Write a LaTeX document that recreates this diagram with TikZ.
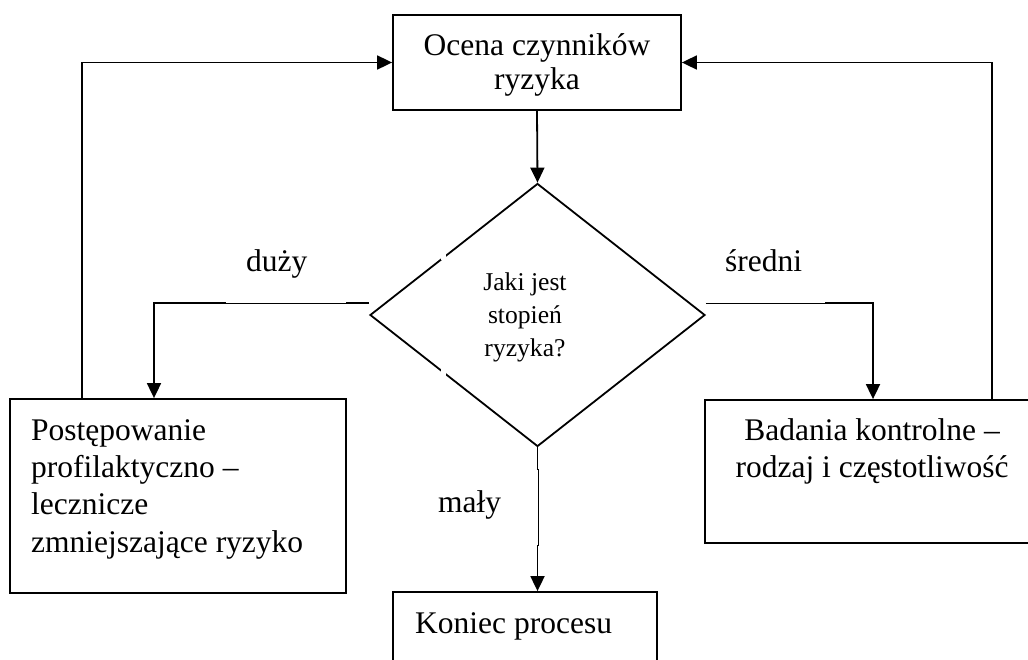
\documentclass[tikz,border=0pt]{standalone}
\usepackage{fontspec}
\setmainfont{Liberation Serif}
\usetikzlibrary{shapes.geometric,arrows.meta,calc}
\begin{document}
\begin{tikzpicture}[x=1pt,y=-1pt,
  box/.style={draw,line width=1.8pt,rectangle,inner sep=0pt},
  conn/.style={line width=1.8pt,-{Triangle[length=15pt,width=14pt]}},
  big/.style={font=\fontsize{31.5}{37}\selectfont,inner sep=0pt},
  small/.style={font=\fontsize{25.6}{33}\selectfont,inner sep=0pt}]
\useasboundingbox (0,0) rectangle (1028,659);

% boxes
\node[box,minimum width=288pt,minimum height=95pt] (top) at (537,62.5) {};
\node[draw,line width=1.8pt,shape=diamond,inner sep=0pt,
      minimum width=335pt,minimum height=263pt] (d) at (537.5,315) {};
\node[box,minimum width=336pt,minimum height=194pt] (lb) at (178,496) {};
\node[box,minimum width=330pt,minimum height=143pt] (rb) at (870,471.5) {};
\node[box,minimum width=264pt,minimum height=80pt] (kb) at (525,632) {};

% small breaks in the diamond outline
\draw[white,line width=5pt] (443,251) -- (443,260);
\draw[white,line width=5pt] (443,369) -- (443,378);

% texts
\node[big,anchor=base] (t1) at (537,55) {Ocena czynników};
\node[big,anchor=base] (t2) at (537,89) {ryzyka};
\node[small,anchor=base] (q1) at (525,290) {Jaki jest};
\node[small,anchor=base] (q2) at (525,323) {stopień};
\node[small,anchor=base] (q3) at (525,356) {ryzyka?};
\node[big,anchor=base west] (l1) at (31,440) {Postępowanie};
\node[big,anchor=base west] (l2) at (31,477) {profilaktyczno –};
\node[big,anchor=base west] (l3) at (31,514) {lecznicze};
\node[big,anchor=base west] (l4) at (31,552) {zmniejszające ryzyko};
\node[big,anchor=base] (r1) at (872,440) {Badania kontrolne –};
\node[big,anchor=base] (r2) at (872,477) {rodzaj i częstotliwość};
\node[big,anchor=base west] (k1) at (415,633) {Koniec procesu};
\node[big,anchor=base west] (ld) at (246,271) {duży};
\node[big,anchor=base west] (ls) at (725,271) {średni};
\node[big,anchor=base west] (lm) at (438,512) {mały};

% connector corners
\coordinate (dl) at ([yshift=12pt]d.west);
\coordinate (dr) at ([yshift=12pt]d.east);
\coordinate (cl) at (154,303);
\coordinate (cr) at (873,303);
\coordinate (fl) at (82,62.5);
\coordinate (fr) at (992,62.5);

% connectors
\draw[conn] (top.south) -- (d.north);
\draw[conn] (dl) -- (cl) -- (cl |- lb.north);
\draw[conn] (dr) -- (cr) -- (cr |- rb.north);
\draw[conn] (d.south) -- (d.south |- kb.north);
\draw[conn] (fl |- lb.north) -- (fl) -- (top.west);
\draw[conn] (fr |- rb.north) -- (fr) -- (top.east);

% thinner stretches of the decision lines
\draw[white,line width=2pt] (226,303) -- (346,303);
\draw[line width=0.8pt] (225,303) -- (347,303);
\draw[white,line width=2pt] (dr) -- (825,303);
\draw[line width=0.8pt] (dr) -- (826,303);
\draw[white,line width=2pt] (538,470) -- (538,545);
\draw[line width=0.8pt] (538,469) -- (538,546);
\end{tikzpicture}
\end{document}
